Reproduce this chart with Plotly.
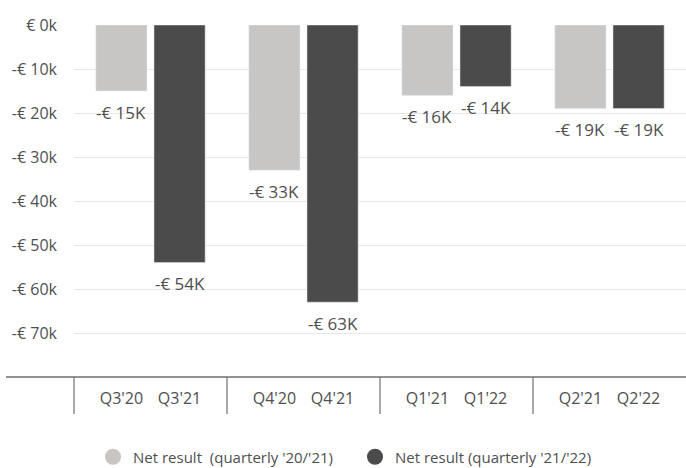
import plotly.graph_objects as go

# ---- data ----
groups = ["Q3", "Q4", "Q1", "Q2"]
labels_prev = ["Q3'20", "Q4'20", "Q1'21", "Q2'21"]
labels_curr = ["Q3'21", "Q4'21", "Q1'22", "Q2'22"]
net_prev = [-15, -33, -16, -19]   # in thousand €
net_curr = [-54, -63, -14, -19]
series_names = ["Net result\u00a0 (quarterly '20/'21)", "Net result (quarterly '21/'22)"]
ytick_vals = [0, -10, -20, -30, -40, -50, -60, -70]
ytick_text = ["€ 0k", "-€ 10k", "-€ 20k", "-€ 30k", "-€ 40k", "-€ 50k", "-€ 60k", "-€ 70k"]

LIGHT = "#c7c6c4"
DARK = "#4b4b4b"
TEXT = "#4f4f4f"
FONT = "Open Sans"

BARGAP = 0.24
BARGROUPGAP = 0.12
OFF = (1 - BARGAP) / 4  # offset of each bar slot centre from the group centre

xs = list(range(len(groups)))

fig = go.Figure()
fig.add_trace(go.Bar(x=xs, y=[v * 1000 for v in net_prev], marker_color=LIGHT,
                     showlegend=False, hoverinfo="skip"))
fig.add_trace(go.Bar(x=xs, y=[v * 1000 for v in net_curr], marker_color=DARK,
                     showlegend=False, hoverinfo="skip"))
# legend entries with circle symbols
for name, col in zip(series_names, [LIGHT, DARK]):
    fig.add_trace(go.Scatter(x=[None], y=[None], mode="markers", name=name,
                             marker=dict(color=col, size=17, symbol="circle")))

# value labels below bar ends
ann = []
for i in xs:
    for off, v in ((-OFF, net_prev[i]), (OFF, net_curr[i])):
        ann.append(dict(x=i + off, y=v * 1000, xref="x", yref="y",
                        text=f"-€ {abs(v)}K", showarrow=False, yshift=-21,
                        yanchor="middle", xanchor="center",
                        font=dict(family=FONT, size=17, color=TEXT)))

tickvals = []
ticktext = []
for i in xs:
    tickvals += [i - OFF, i + OFF]
    ticktext += [labels_prev[i], labels_curr[i]]

shapes = []
# bottom axis line extending left
shapes.append(dict(type="line", xref="paper", yref="paper", x0=-68 / 612, x1=1,
                   y0=0, y1=0, line=dict(color="#6e6e6e", width=1.5)))
# group dividers
for i in range(len(groups)):
    shapes.append(dict(type="line", xref="paper", yref="paper",
                       x0=i / len(groups), x1=i / len(groups), y0=0, y1=-37 / 352,
                       line=dict(color="#6e6e6e", width=1.2)))

fig.update_layout(
    width=686, height=468,
    margin=dict(l=74, r=0, t=25, b=91),
    paper_bgcolor="white", plot_bgcolor="white",
    barmode="group", bargap=BARGAP, bargroupgap=BARGROUPGAP,
    font=dict(family=FONT, size=16, color=TEXT),
    annotations=ann, shapes=shapes,
    legend=dict(orientation="h", x=(93 - 74) / 612, xanchor="left",
                yref="container", y=(468 - 457) / 468, yanchor="middle",
                font=dict(family=FONT, size=15, color=TEXT),
                entrywidth=217, entrywidthmode="pixels"),
    xaxis=dict(range=[-0.5, len(groups) - 0.5], tickvals=tickvals, ticktext=ticktext,
               showgrid=False, zeroline=False, showline=False, ticks="",
               automargin=False,
               ticklabelstandoff=10, tickfont=dict(size=16, color=TEXT)),
    yaxis=dict(range=[-80000, 0], tickvals=[v * 1000 for v in ytick_vals], ticktext=ytick_text,
               showgrid=True, gridcolor="#e8e8e8", gridwidth=1, zeroline=False,
               automargin=False,
               showline=False, ticks="", ticklabelstandoff=16,
               tickfont=dict(size=16, color=TEXT)),
)

fig.write_html("out.html", config={"displayModeBar": False},
               post_script="document.body.style.margin='0';")
